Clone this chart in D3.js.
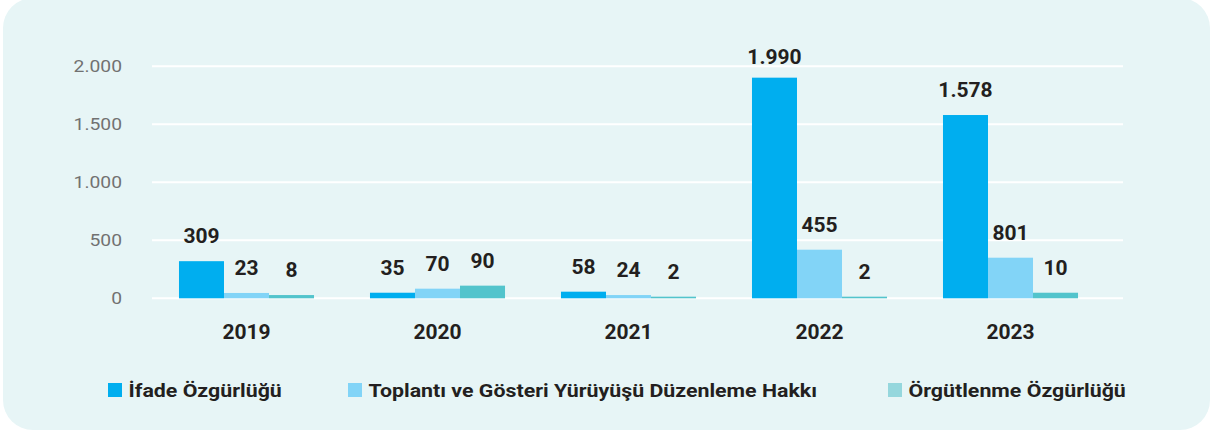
<!DOCTYPE html>
<html>
<head>
<meta charset="utf-8">
<script src="https://cdn.jsdelivr.net/npm/d3@7"></script>
<style>
  html, body { margin: 0; padding: 0; background: #fff; }
  #chart { width: 1213px; height: 432px; }
  text { font-family: Roboto, "Noto Sans", sans-serif; }
</style>
</head>
<body>
<div id="chart"></div>
<script>
// data
const years = ["2019", "2020", "2021", "2022", "2023"];
const seriesNames = ["İfade Özgürlüğü", "Toplantı ve Gösteri Yürüyüşü Düzenleme Hakkı", "Örgütlenme Özgürlüğü"];
// printed labels
const ifadeLabels = [309, 35, 58, 1990, 1578];
const toplantiLabels = [23, 70, 24, 455, 801];
const orgutLabels = [8, 90, 2, 2, 10];
// bar heights as drawn in the picture
const ifadeBars = [320, 48, 57, 1902, 1580];
const toplantiBars = [46, 83, 28, 419, 350];
const orgutBars = [28, 109, 14, 14, 48];
const yTicks = [0, 500, 1000, 1500, 2000];

const barColors = ["#00aeef", "#82d4f7", "#53c4cc"];
const legendColors = ["#00aeef", "#82d4f7", "#95d7dd"];

const width = 1213, height = 432;

const svg = d3.select("#chart").append("svg")
  .attr("width", width)
  .attr("height", height);

// panel background
svg.append("rect")
  .attr("x", 3).attr("y", -2)
  .attr("width", 1207).attr("height", 432)
  .attr("rx", 30)
  .attr("fill", "#e7f5f6");

const x = d3.scaleBand()
  .domain(years)
  .range([151, 1106])
  .paddingInner(0.293)
  .paddingOuter(0.1465);

const xSub = d3.scaleBand()
  .domain([0, 1, 2])
  .range([0, x.bandwidth()]);

const y = d3.scaleLinear()
  .domain([0, 2000])
  .range([298.3, 66.3]);

const fmt = d3.formatLocale({ decimal: ",", thousands: ".", grouping: [3], currency: ["", "₺"] }).format(",d");

// grid lines
svg.append("g").selectAll("line")
  .data(yTicks)
  .join("line")
  .attr("x1", 152).attr("x2", 1123)
  .attr("y1", d => y(d)).attr("y2", d => y(d))
  .attr("stroke", "#ffffff")
  .attr("stroke-width", 2);

// y axis labels (the source text is a bit wider, so stretch it)
svg.append("g").selectAll("text")
  .data(yTicks)
  .join("text")
  .attr("transform", d => `translate(122,${y(d)}) scale(1.17,1)`)
  .attr("dy", "0.35em")
  .attr("text-anchor", "end")
  .attr("font-size", 16.5)
  .attr("fill", "#717171")
  .text(d => fmt(d));

// build rows
const bars = [ifadeBars, toplantiBars, orgutBars];
const labels = [ifadeLabels, toplantiLabels, orgutLabels];
const rows = [];
years.forEach((yr, i) => {
  for (let s = 0; s < 3; s++) {
    rows.push({ year: yr, s: s, bar: bars[s][i], label: labels[s][i] });
  }
});

const g = svg.append("g");

g.selectAll("rect.bar")
  .data(rows)
  .join("rect")
  .attr("class", "bar")
  .attr("x", d => x(d.year) + xSub(d.s))
  .attr("width", xSub.bandwidth())
  .attr("y", d => y(d.bar))
  .attr("height", d => y(0) - y(d.bar))
  .attr("fill", d => barColors[d.s]);

g.selectAll("text.val")
  .data(rows)
  .join("text")
  .attr("class", "val")
  .attr("x", d => x(d.year) + xSub(d.s) + xSub.bandwidth() / 2)
  .attr("y", d => Math.max(y(d.bar) - 18, 64))
  .attr("text-anchor", "middle")
  .attr("font-size", 21)
  .attr("font-weight", "bold")
  .attr("fill", "#231f20")
  .text(d => fmt(d.label));

// x axis labels
svg.append("g").selectAll("text")
  .data(years)
  .join("text")
  .attr("x", d => x(d) + x.bandwidth() / 2)
  .attr("y", 339)
  .attr("text-anchor", "middle")
  .attr("font-size", 21)
  .attr("font-weight", "bold")
  .attr("fill", "#231f20")
  .text(d => d);

// legend
const legendX = [108, 348, 888];
const legend = svg.append("g").selectAll("g")
  .data(seriesNames)
  .join("g")
  .attr("transform", (d, i) => `translate(${legendX[i]},383)`);

legend.append("rect")
  .attr("width", 14).attr("height", 14)
  .attr("fill", (d, i) => legendColors[i]);

legend.append("text")
  .attr("transform", "translate(20.5,14) scale(1.22,1)")
  .attr("font-size", 17.5)
  .attr("font-weight", "bold")
  .attr("fill", "#231f20")
  .text(d => d);
</script>
</body>
</html>
